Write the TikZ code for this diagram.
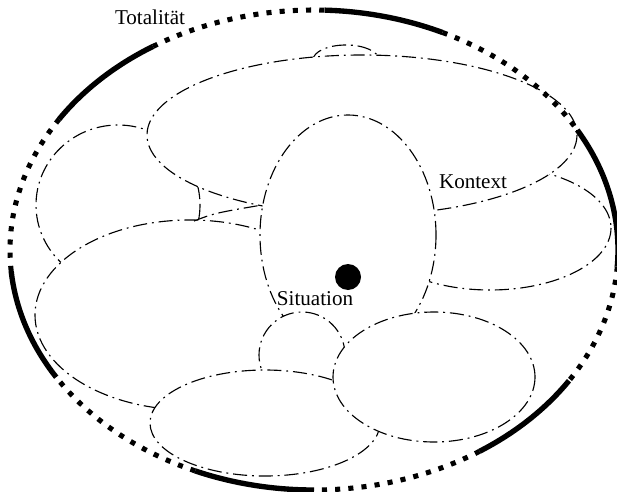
\documentclass[tikz,border=0pt]{standalone}
\usepackage{fontspec}
\setmainfont{Liberation Serif}

\begin{document}
\begin{tikzpicture}[x=0.025cm,y=-0.025cm,font=\fontsize{15}{18}\selectfont,
        blob/.style={draw=black,fill=white,line width=0.8pt,
            dash pattern=on 10pt off 3.5pt on 1.3pt off 3.5pt},
        rimsolid/.style={line width=3.8pt},
        rimdots/.style={line width=3.6pt,dash pattern=on 3.6pt off 5.8pt}]
        \useasboundingbox (0,0) rectangle (617,492);
        \def\cx{314}
        \def\cy{250}
        \def\rx{304}
        \def\ry{240}

        % context regions, back to front
        \draw[blob] (346,60) ellipse[x radius=33,y radius=15];
        \draw[blob] (118,205) ellipse[x radius=82,y radius=80];
        \draw[blob] (190,315) ellipse[x radius=155,y radius=95];
        \draw[blob,fill=none] (194,221) .. controls (215,213) .. (268,204);
        \draw[blob] (490,228) ellipse[x radius=121,y radius=62];
        \draw[blob] (362,135) ellipse[x radius=215,y radius=80];
        \draw[blob] (348,235) ellipse[x radius=88,y radius=120];
        \draw[blob] (302,355) circle[radius=43];
        \draw[blob] (265,423) ellipse[x radius=115,y radius=53];
        \draw[blob] (434,377) ellipse[x radius=101,y radius=65];

        \fill (348,277) circle[radius=13];

        % outer rim
        \foreach \a/\b/\st in
            {-147/-122/rimsolid,-122/-88/rimdots,-88/-65/rimsolid,
             -65/-30/rimdots,-30/4/rimsolid,4/33/rimdots,
             33/57/rimsolid,57/90/rimdots,90/113/rimsolid,
             113/148/rimdots,148/175/rimsolid,175/213/rimdots}
        {
            \draw[\st] ({\cx+\rx*cos(\a)},{\cy+\ry*sin(\a)})
                arc[start angle=\a,end angle=\b,x radius=\rx,y radius=\ry];
        }

        \node (totalitaet) at (150,17) {Totalität};
        \node (kontext) at (473,182) {Kontext};
        \node (situation) at (315,299) {Situation};
    \end{tikzpicture}
\end{document}
